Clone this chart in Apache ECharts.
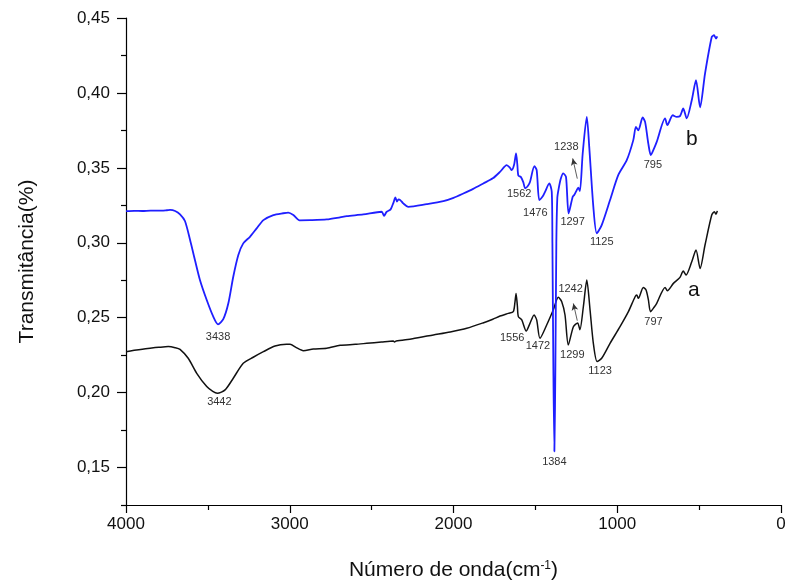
<!DOCTYPE html>
<html>
<head>
<meta charset="utf-8">
<script src="https://cdn.jsdelivr.net/npm/echarts@6/dist/echarts.min.js"></script>
<style>
  html, body { margin: 0; padding: 0; background: #fff; }
  #chart { width: 789px; height: 586px; }
</style>
</head>
<body>
<div id="chart"></div>
<script>
// FTIR spectra: wavenumber (cm-1) vs transmittance, samples "a" (black) and "b" (blue)

const waveB = [4000, 3950, 3900, 3850, 3800, 3750, 3731, 3700, 3670, 3640, 3609, 3579, 3548, 3507, 3467, 3438, 3406, 3375, 3345, 3314, 3284, 3243, 3202, 3161, 3100, 3040, 3009, 2978, 2940, 2876, 2774, 2693, 2652, 2551, 2439, 2424, 2408, 2384, 2366, 2355, 2345, 2336, 2325, 2307, 2276, 2164, 2062, 2000, 1940, 1880, 1818, 1760, 1716, 1675, 1655, 1645, 1630, 1618, 1610, 1604, 1588, 1574, 1562, 1545, 1533, 1506, 1492, 1476, 1455, 1441, 1415, 1400, 1396, 1390, 1384, 1378, 1372, 1366, 1358, 1344, 1330, 1313, 1297, 1272, 1262, 1248, 1238, 1228, 1211, 1186, 1171, 1146, 1125, 1095, 1044, 994, 942, 902, 886, 871, 845, 830, 810, 795, 775, 759, 708, 694, 661, 637, 617, 597, 576, 545, 519, 494, 464, 423, 409, 397, 389];
const transB = [0.3211, 0.3213, 0.3212, 0.3215, 0.3214, 0.3217, 0.3219, 0.3212, 0.3190, 0.3145, 0.3020, 0.2885, 0.2750, 0.2618, 0.2507, 0.2456, 0.2490, 0.2596, 0.2773, 0.2918, 0.2996, 0.3040, 0.3096, 0.3151, 0.3185, 0.3197, 0.3201, 0.3185, 0.3150, 0.3151, 0.3156, 0.3170, 0.3178, 0.3189, 0.3207, 0.3180, 0.3207, 0.3223, 0.3270, 0.3303, 0.3275, 0.3290, 0.3285, 0.3263, 0.3240, 0.3258, 0.3278, 0.3300, 0.3329, 0.3360, 0.3396, 0.3430, 0.3473, 0.3518, 0.3500, 0.3485, 0.3520, 0.3596, 0.3520, 0.3449, 0.3438, 0.3405, 0.3363, 0.3380, 0.3405, 0.3511, 0.3485, 0.3285, 0.3310, 0.3340, 0.3396, 0.3340, 0.3000, 0.2150, 0.1607, 0.2150, 0.3000, 0.3300, 0.3360, 0.3430, 0.3463, 0.3440, 0.3196, 0.3307, 0.3320, 0.3350, 0.3368, 0.3345, 0.3596, 0.3840, 0.3640, 0.3240, 0.3063, 0.3118, 0.3285, 0.3451, 0.3551, 0.3685, 0.3773, 0.3751, 0.3836, 0.3807, 0.3660, 0.3585, 0.3630, 0.3673, 0.3830, 0.3785, 0.3851, 0.3840, 0.3845, 0.3896, 0.3830, 0.3951, 0.4085, 0.3903, 0.4129, 0.4373, 0.4385, 0.4363, 0.4378];

const waveA = [4000, 3950, 3900, 3853, 3800, 3742, 3700, 3670, 3620, 3568, 3507, 3470, 3442, 3395, 3345, 3284, 3223, 3161, 3090, 3020, 2998, 2960, 2917, 2856, 2774, 2693, 2600, 2530, 2440, 2368, 2360, 2350, 2250, 2123, 2020, 1919, 1820, 1760, 1716, 1665, 1635, 1625, 1618, 1610, 1604, 1583, 1556, 1533, 1508, 1492, 1472, 1431, 1391, 1360, 1339, 1319, 1299, 1268, 1242, 1228, 1207, 1186, 1166, 1146, 1123, 1095, 1044, 983, 932, 891, 881, 871, 841, 824, 810, 797, 775, 759, 708, 694, 657, 617, 597, 580, 545, 519, 494, 464, 423, 407, 397, 389];
const transA = [0.2273, 0.2282, 0.2290, 0.2296, 0.2302, 0.2307, 0.2300, 0.2289, 0.2229, 0.2129, 0.2040, 0.2008, 0.1996, 0.2018, 0.2096, 0.2196, 0.2236, 0.2273, 0.2311, 0.2322, 0.2322, 0.2300, 0.2280, 0.2291, 0.2296, 0.2316, 0.2322, 0.2329, 0.2338, 0.2345, 0.2338, 0.2345, 0.2360, 0.2385, 0.2405, 0.2429, 0.2465, 0.2490, 0.2511, 0.2529, 0.2540, 0.2600, 0.2662, 0.2580, 0.2507, 0.2485, 0.2411, 0.2462, 0.2518, 0.2485, 0.2362, 0.2451, 0.2551, 0.2636, 0.2607, 0.2518, 0.2318, 0.2440, 0.2465, 0.2420, 0.2573, 0.2751, 0.2551, 0.2329, 0.2207, 0.2229, 0.2329, 0.2440, 0.2540, 0.2640, 0.2651, 0.2629, 0.2702, 0.2685, 0.2620, 0.2540, 0.2570, 0.2596, 0.2702, 0.2680, 0.2729, 0.2769, 0.2811, 0.2785, 0.2873, 0.2951, 0.2829, 0.2985, 0.3185, 0.3207, 0.3191, 0.3213];

// band positions marked on each spectrum
const peaksB = [3438, 1562, 1476, 1384, 1297, 1125, 795];
const shoulderB = 1238;
const peaksA = [3442, 1556, 1472, 1299, 1123, 797];
const shoulderA = 1242;

const xTicks = [0, 1000, 2000, 3000, 4000];
const xMinorTicks = [500, 1500, 2500, 3500];
const yTicks = [0.15, 0.20, 0.25, 0.30, 0.35, 0.40, 0.45];
const yMinorTicks = [0.125, 0.175, 0.225, 0.275, 0.325, 0.375, 0.425];

const FONT = 'Liberation Sans, Arial, sans-serif';

// label placement (pixel offsets from the band point)
const offsB = { 3438: [0, 13], 1562: [-6, 6], 1476: [-4, 13], 1384: [0, 10], 1297: [4, 9], 1125: [5, 9], 795: [2, 10] };
const offsA = { 3442: [2, 9], 1556: [-14, 7], 1472: [-2, 8], 1299: [4, 10], 1123: [3, 9], 797: [3, 10] };

function valueAt(waves, vals, w) {
  let best = 0;
  for (let i = 1; i < waves.length; i++) {
    if (Math.abs(waves[i] - w) < Math.abs(waves[best] - w)) best = i;
  }
  return vals[best];
}

function bandMarks(waves, vals, peaks, offs, shoulder, shoulderOff, letter, letterAt, letterOff) {
  const data = peaks.map(w => ({
    coord: [w, valueAt(waves, vals, w)],
    label: { formatter: String(w), offset: offs[w] }
  }));
  data.push({
    coord: [shoulder, valueAt(waves, vals, shoulder)],
    label: { formatter: String(shoulder), offset: shoulderOff }
  });
  data.push({
    coord: [letterAt, valueAt(waves, vals, letterAt)],
    label: { formatter: letter, offset: letterOff, fontSize: 21, color: '#111' }
  });
  return {
    symbol: 'circle',
    symbolSize: 0,
    silent: true,
    label: { show: true, position: 'inside', fontFamily: FONT, fontSize: 11, color: '#333' },
    data: data
  };
}

function shoulderArrow(waves, vals, w, tail, head) {
  const v = valueAt(waves, vals, w);
  return {
    silent: true,
    symbol: ['none', 'arrow'],
    symbolSize: [5, 7],
    label: { show: false },
    lineStyle: { color: '#333', width: 0.8, type: 'solid' },
    data: [[{ coord: [tail[0], v + tail[1]] }, { coord: [head[0], v + head[1]] }]]
  };
}

const pairsB = waveB.map((w, i) => [w, transB[i]]);
const pairsA = waveA.map((w, i) => [w, transA[i]]);

const chart = echarts.init(document.getElementById('chart'), null, { renderer: 'canvas' });

const axisLineStyle = { color: '#000', width: 1.2 };
const gridBox = { left: 126, right: 8, top: 18, bottom: 81, containLabel: false };

chart.setOption({
  animation: false,
  backgroundColor: '#fff',
  // second grid overlays the first and carries only the minor ticks
  grid: [Object.assign({}, gridBox), Object.assign({}, gridBox)],
  xAxis: [{
    gridIndex: 0, type: 'value', min: 0, max: 4000, inverse: true,
    axisLine: { show: true, onZero: false, lineStyle: axisLineStyle },
    axisTick: { show: true, length: 8, inside: false, customValues: xTicks, lineStyle: axisLineStyle },
    axisLabel: {
      customValues: xTicks, fontFamily: FONT, fontSize: 17, color: '#111', margin: 11,
      formatter: v => String(v)
    },
    splitLine: { show: false },
    name: '{t|Número de onda(cm}{s|-1}{t|)}',
    nameLocation: 'middle', nameGap: 55,
    nameTextStyle: {
      rich: {
        t: { fontFamily: FONT, fontSize: 21, color: '#111' },
        s: { fontFamily: FONT, fontSize: 12, color: '#111', verticalAlign: 'top', padding: [0, 0, 8, 0] }
      }
    }
  }, {
    gridIndex: 1, type: 'value', min: 0, max: 4000, inverse: true, position: 'bottom',
    axisLine: { show: false, onZero: false },
    axisTick: { show: true, length: 5, customValues: xMinorTicks, lineStyle: axisLineStyle },
    axisLabel: { show: false },
    splitLine: { show: false }
  }],
  yAxis: [{
    gridIndex: 0, type: 'value', min: 0.125, max: 0.45,
    axisLine: { show: true, onZero: false, lineStyle: axisLineStyle },
    axisTick: { show: true, length: 9, customValues: yTicks, lineStyle: axisLineStyle },
    axisLabel: {
      customValues: yTicks, fontFamily: FONT, fontSize: 17, color: '#111', margin: 16,
      formatter: v => v.toFixed(2).replace('.', ',')
    },
    splitLine: { show: false },
    name: 'Transmitância(%)',
    nameLocation: 'middle', nameGap: 88, nameRotate: 90,
    nameTextStyle: { fontFamily: FONT, fontSize: 21, color: '#111' }
  }, {
    gridIndex: 1, type: 'value', min: 0.125, max: 0.45, position: 'left',
    axisLine: { show: false, onZero: false },
    axisTick: { show: true, length: 5, customValues: yMinorTicks, lineStyle: axisLineStyle },
    axisLabel: { show: false },
    splitLine: { show: false }
  }],
  series: [{
    name: 'b', type: 'line', data: pairsB, showSymbol: false, symbol: 'none',
    smooth: 0.25,
    lineStyle: { color: '#1f1fff', width: 1.8 }, z: 3,
    markPoint: bandMarks(waveB, transB, peaksB, offsB, shoulderB, [-12, -41], 'b', 545, [0, 39]),
    markLine: shoulderArrow(waveB, transB, shoulderB, [1244, 0.006], [1272, 0.0195])
  }, {
    name: 'a', type: 'line', data: pairsA, showSymbol: false, symbol: 'none',
    smooth: 0.25,
    lineStyle: { color: '#111', width: 1.5 }, z: 2,
    markPoint: bandMarks(waveA, transA, peaksA, offsA, shoulderA, [-7, -34], 'a', 545, [2, 28]),
    markLine: shoulderArrow(waveA, transA, shoulderA, [1244, 0.0015], [1268, 0.013])
  }]
});
</script>
</body>
</html>
